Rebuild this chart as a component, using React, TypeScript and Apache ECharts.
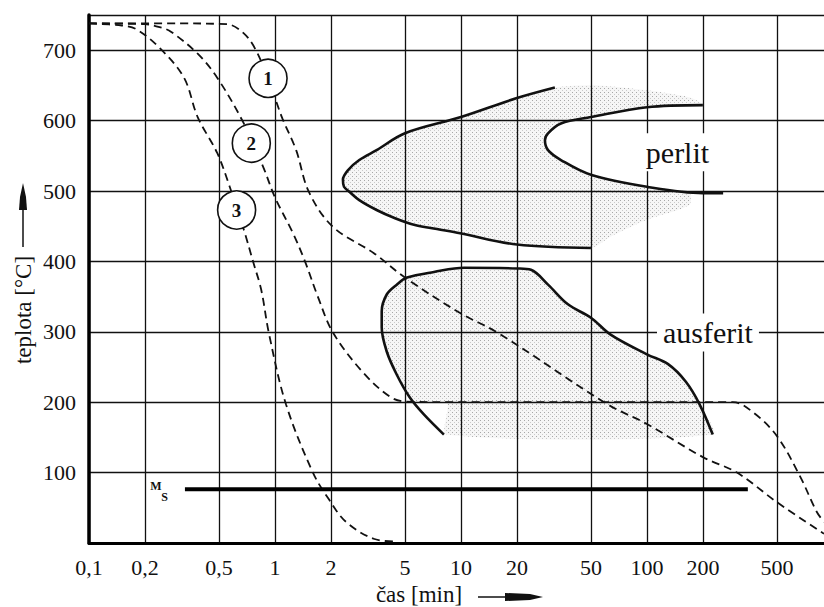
import React, { useEffect, useRef } from 'react';
import * as echarts from 'echarts';

// ---- axis ticks ----
const timeTicks = [0.1, 0.2, 0.5, 1, 2, 5, 10, 20, 50, 100, 200, 500];
const timeMin = 0.1;
const timeMax = 896;
const tempMin = 0;
const tempMax = 750;
const tempStep = 100;

// ---- cooling curves (time [min], temperature [°C]) ----
const curve1 = [
  [0.1, 738], [0.3, 738], [0.55, 737], [0.68, 724], [0.79, 700], [0.9, 665], [1.01, 629],
  [1.1, 602], [1.3, 558], [1.52, 499], [2.05, 449], [3.39, 412], [5, 377], [10, 326],
  [15.7, 299], [61.5, 197], [100, 169], [200, 122], [305, 100], [500, 58], [896, 13],
];
const curve2 = [
  [0.1, 738], [0.2, 737], [0.245, 732], [0.277, 726], [0.384, 695], [0.489, 661], [0.68, 596],
  [0.865, 534], [1, 491], [1.25, 440], [1.45, 400], [1.7, 350], [2.05, 299], [2.98, 242],
  [4.14, 208], [5, 201], [10, 200], [100, 200], [290, 200], [371, 186], [500, 152],
  [665, 95], [820, 44], [896, 30],
];
const curve3 = [
  [0.1, 738], [0.15, 735], [0.179, 730], [0.238, 704], [0.324, 661], [0.384, 605],
  [0.489, 554], [0.571, 506], [0.68, 445], [0.766, 398], [0.843, 360], [0.929, 297],
  [1.146, 197], [1.6, 100], [1.95, 62], [2.41, 30], [3.39, 6], [4.5, 2],
];

// ---- transformation curves ----
const pearliteStart = [
  [32, 647], [20, 632], [10, 605], [5, 582], [3.52, 558], [2.84, 544], [2.48, 530], [2.32, 516],
  [2.35, 506], [2.51, 499], [2.84, 487], [3.52, 473], [4.36, 462], [5.59, 452], [7.43, 446],
  [9.9, 440], [20, 424], [50, 419],
];
const pearliteEnd = [
  [200, 622], [100, 619], [50, 605], [34.5, 596], [29.4, 582], [28.3, 572], [29.4, 558],
  [34.5, 544], [50, 523], [100, 506], [200, 497], [257, 497],
];
const ausferrite = [
  [8.1, 154], [6.3, 183], [5.3, 207], [4.52, 239], [3.99, 272], [3.75, 306], [3.75, 329],
  [3.99, 353], [4.52, 367], [5.13, 377], [7.16, 385], [10.4, 391], [20.2, 390], [23.8, 388],
  [29.4, 367], [37.6, 339], [50, 320], [63.8, 296], [100, 268], [130, 254], [162, 229],
  [192, 197], [226, 154],
];

// ---- stippled zones ----
const pearliteZone = [
  [2.32, 516], [2.48, 530], [2.84, 544], [3.52, 558], [5, 582], [10, 605], [20, 632], [32, 647],
  [54.5, 650], [100, 643], [169, 633], [200, 622], [100, 619], [50, 605], [34.5, 596],
  [29.4, 582], [28.3, 572], [29.4, 558], [34.5, 544], [50, 523], [100, 506], [169, 498],
  [169, 480], [100, 459], [63.8, 435], [50, 419], [20, 424], [9.9, 440], [7.43, 446],
  [5.59, 452], [4.36, 462], [3.52, 473], [2.84, 487], [2.51, 499], [2.35, 506],
];
const ausferriteZone = [
  [5.3, 207], [4.52, 239], [3.99, 272], [3.75, 306], [3.75, 329], [3.99, 353], [4.52, 367],
  [5.13, 377], [7.16, 385], [10.4, 391], [20.2, 390], [23.8, 388], [29.4, 367], [37.6, 339],
  [50, 320], [63.8, 296], [100, 268], [130, 254], [162, 229], [192, 197], [226, 154],
  [8.4, 154], [8.4, 200], [5.5, 200],
];

// ---- Ms line ----
const msTimes = [0.328, 349];
const msTemp = 76.5;

// ---- labels ----
const circleLabels = ['1', '2', '3'];
const circleTimes = [0.918, 0.746, 0.622];
const circleTemps = [660, 568, 473];
const regionLabels = ['perlit', 'ausferit'];
const regionTimes = [146, 213];
const regionTemps = [555, 299];
const msLabels = ['M', 'S'];
const msLabelTimes = [0.229, 0.255];
const msLabelTemps = [81, 66];

const SERIF = 'Liberation Serif';

const lg = (pts: number[][]) => pts.map(([t, T]) => [Math.log10(t), T]);

function makeStipple() {
  const c = document.createElement('canvas');
  c.width = 4;
  c.height = 4;
  const ctx = c.getContext('2d')!;
  ctx.fillStyle = 'rgba(0,0,0,0.035)';
  ctx.fillRect(0, 0, 4, 4);
  ctx.fillStyle = 'rgba(0,0,0,0.32)';
  ctx.fillRect(0, 0, 1, 1);
  ctx.fillStyle = 'rgba(0,0,0,0.18)';
  ctx.fillRect(2, 2, 1, 1);
  return { image: c, repeat: 'repeat' };
}

function fmtTime(v: number) {
  const t = Number(Math.pow(10, v).toPrecision(2));
  return String(t).replace('.', ',');
}

export default function App() {
  const ref = useRef<HTMLDivElement>(null);
  useEffect(() => {
    if (!ref.current) return;
    const chart = echarts.init(ref.current, undefined, { renderer: 'svg' });
    const stipple: any = makeStipple();

    const zone = (pts: number[][]) => ({
      type: 'custom',
      coordinateSystem: 'cartesian2d',
      data: [[0, 0]],
      silent: true,
      z: 1,
      renderItem: (_p: any, api: any) => ({
        type: 'polygon',
        shape: { points: lg(pts).map((p) => api.coord(p)), smooth: 0.25 },
        style: { fill: stipple, stroke: null },
      }),
    });

    const dashed = (pts: number[][]) => ({
      type: 'line',
      data: lg(pts),
      showSymbol: false,
      smooth: 0.35,
      z: 3,
      lineStyle: { color: '#111', width: 1.8, type: [8, 5] },
    });
    const solid = (pts: number[][]) => ({
      type: 'line',
      data: lg(pts),
      showSymbol: false,
      smooth: 0.35,
      z: 3,
      lineStyle: { color: '#111', width: 2.6 },
    });

    const textScatter = (labels: string[], times: number[], temps: number[], label: any) => ({
      type: 'scatter',
      z: 6,
      symbol: 'rect',
      symbolSize: 1,
      itemStyle: { color: 'rgba(0,0,0,0)', opacity: 1 },
      label: {
        show: true,
        position: 'inside',
        formatter: (p: any) => p.data[2],
        fontFamily: SERIF,
        color: '#111',
        ...label,
      },
      data: labels.map((l, i) => [Math.log10(times[i]), temps[i], l]),
    });

    chart.setOption({
      animation: false,
      backgroundColor: '#fff',
      grid: { left: 89, right: 0, top: 15, bottom: 64 },
      xAxis: {
        type: 'value',
        min: Math.log10(timeMin),
        max: Math.log10(timeMax),
        axisLine: { show: true, onZero: false, lineStyle: { color: '#000', width: 3 } },
        axisTick: { show: false, customValues: timeTicks.map((t) => Math.log10(t)) },
        axisLabel: {
          customValues: timeTicks.map((t) => Math.log10(t)),
          formatter: (v: number) => fmtTime(v),
          fontFamily: SERIF,
          fontSize: 22,
          color: '#111',
          margin: 13,
        },
        splitLine: { show: true, lineStyle: { color: '#111', width: 1.3 } },
      },
      yAxis: {
        type: 'value',
        min: tempMin,
        max: tempMax,
        interval: tempStep,
        axisLine: { show: true, onZero: false, lineStyle: { color: '#000', width: 3.5 } },
        axisTick: { show: false },
        axisLabel: {
          formatter: (v: number) => (v === tempMin || v === tempMax ? '' : String(v)),
          fontFamily: SERIF,
          fontSize: 22,
          color: '#111',
          margin: 13,
        },
        splitLine: { show: true, lineStyle: { color: '#111', width: 1.3 } },
      },
      series: [
        zone(pearliteZone),
        zone(ausferriteZone),
        solid(pearliteStart),
        solid(pearliteEnd),
        solid(ausferrite),
        dashed(curve1),
        dashed(curve2),
        dashed(curve3),
        {
          type: 'line',
          data: msTimes.map((t) => [Math.log10(t), msTemp]),
          showSymbol: false,
          z: 3,
          lineStyle: { color: '#000', width: 4 },
        },
        {
          type: 'scatter',
          z: 5,
          symbol: 'circle',
          symbolSize: 38,
          itemStyle: { color: '#fff', borderColor: '#111', borderWidth: 1.6, opacity: 1 },
          label: {
            show: true,
            position: 'inside',
            formatter: (p: any) => p.data[2],
            fontFamily: SERIF,
            fontWeight: 'bold',
            fontSize: 19,
            color: '#111',
          },
          data: circleLabels.map((l, i) => [Math.log10(circleTimes[i]), circleTemps[i], l]),
        },
        textScatter(regionLabels, regionTimes, regionTemps, {
          fontSize: 30,
          backgroundColor: '#fff',
          padding: [4, 6],
        }),
        textScatter(msLabels, msLabelTimes, msLabelTemps, { fontSize: 12, fontWeight: 'bold' }),
      ],
      graphic: [
        {
          type: 'text',
          x: 23,
          y: 310,
          rotation: Math.PI / 2,
          style: {
            text: 'teplota [°C]',
            fontFamily: SERIF,
            fontSize: 23,
            align: 'center',
            verticalAlign: 'middle',
            fill: '#111',
          },
        },
        { type: 'line', shape: { x1: 23, y1: 247, x2: 23, y2: 205 }, style: { stroke: '#111', lineWidth: 1.5 } },
        {
          type: 'polygon',
          shape: { points: [[23, 183], [20, 197], [19, 210], [27, 210], [26, 197]] },
          style: { fill: '#111' },
        },
        {
          type: 'text',
          x: 419,
          y: 594,
          style: {
            text: 'čas [min]',
            fontFamily: SERIF,
            fontSize: 23,
            align: 'center',
            verticalAlign: 'middle',
            fill: '#111',
          },
        },
        { type: 'line', shape: { x1: 478, y1: 597, x2: 512, y2: 597 }, style: { stroke: '#111', lineWidth: 1.5 } },
        {
          type: 'polygon',
          shape: { points: [[505, 593], [530, 594], [543, 597], [530, 600], [505, 601]] },
          style: { fill: '#111' },
        },
      ],
    });
    return () => chart.dispose();
  }, []);
  return <div ref={ref} style={{ position: 'fixed', left: 0, top: 0, width: 824, height: 607 }} />;
}
